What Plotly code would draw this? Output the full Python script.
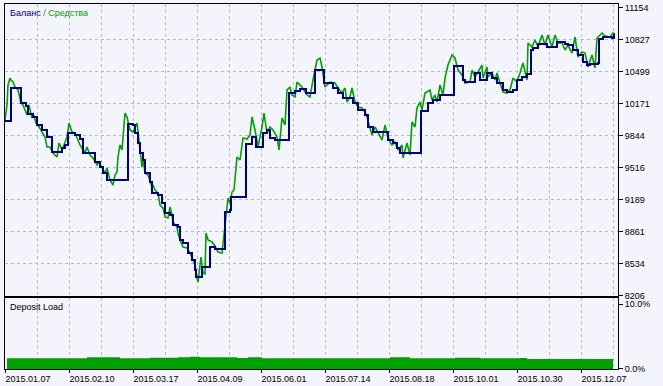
import plotly.graph_objects as go

# ---- data (x = trade index position along the tester chart) ----
bal_idx = [0,6,16,21,23,28,32,37,42,47, 57,60,63,70,75,78,90,95,98,102,
           123,128,130,133,135,138,140,145,147,153, 157,160,165,168,173,175,178,183,187,190,
           191,197,205,210,220,225,226,241,247,251, 258,262,265,270,284,290,295,301,310,319,
           328,333,338,348,353,360,363,368,383,388, 392,395,416,423,428,435,449,458,460,470,
           475,482,487,492,498,502,508,512,517,522, 526,528,533,542,552,560,563,568,573,578,
           582,585,593,594,598,607,609,610]
balance = [9992,10330,10176,10146,10064,10033,9951,9900,9828,9675, 9716,9747,9869,9849,9808,9665,9573,9521,9460,9388,
           9962,9951,9869,9767,9665,9593,9460,9368,9255,9235, 9153,9051,9030,8928,8907,8774,8743,8641,8569,8467,
           8395,8498,8702,8682,9061,9081,9214,9757,9828,9726, 9869,9900,9818,9798,10279,10299,10320,10279,10514,10381,
           10330,10279,10228,10176,10105,10054,9931,9880,9798,9767, 9716,9665,10095,10176,10207,10258,10555,10412,10391,10484,
           10412,10484,10432,10381,10310,10289,10310,10412,10443,10473, 10719,10740,10780,10750,10801,10780,10770,10719,10668,10596,
           10565,10576,10586,10832,10852,10842,10873,10873]

eq_idx = [0,2,3,5,6,8,10,13,16,18, 22,24,27,28,31,33,37,40,42,45, 48,52,54,57,59,62,64,67,70,72,
          75,78,80,82,85,88,92,94,97,100, 102,105,108,110,112,113,115,117,120,122, 125,128,132,135,137,138,140,143,147,148,
          150,153,155,158,160,163,165,167,168,172, 173,175,178,182,185,188,190,192,193,196, 198,200,201,203,207,210,213,217,220,222,
          223,225,227,229,232,235,238,242,245,247, 250,253,257,259,262,265,268,272,274,277, 280,282,285,287,290,292,297,302,305,308,
          312,315,317,320,325,330,333,337,340,342, 345,347,350,353,357,360,362,365,367,370, 373,377,380,383,387,390,393,397,398,402,
          405,407,410,412,415,417,420,425,427,430, 432,435,438,440,443,447,450,453,457,460, 465,467,470,473,477,478,482,483,487,490,
          492,495,498,502,505,508,512,515,518,522, 523,527,530,533,537,540,543,547,550,553, 557,560,563,567,570,573,577,580,583,587,
          590,592,597,600,605,608,610]
equity = [10003,10156,10361,10432,10412,10391,10340,10310,10176,10156, 10054,10156,10023,10074,9972,9951,9880,9828,9726,9726,
          9665,9624,9767,9695,9747,9828,9972,9880,9869,9818, 9747,9695,9675,9726,9644,9613,9542,9573,9511,9460,
          9511,9388,9337,9440,9470,9624,9747,9695,10074,10033, 9900,9880,9972,9726,9521,9624,9460,9440,9317,9337,
          9286,9255,9132,9102,9010,9000,9112,9030,8958,8907, 8846,8774,8702,8692,8641,8569,8518,8385,8344,8600,
          8436,8426,8846,8774,8754,8713,8651,8641,8907,9081, 9204,9153,9265,9286,9624,9593,9818,9808,9849,10033,
          9900,9726,9931,10074,9869,9931,9900,9828,9695,10023, 9951,10310,10340,10258,10238,10391,10340,10258,10238,10412,
          10617,10637,10545,10340,10391,10381,10330,10279,10330,10187, 10238,10330,10187,10136,10125,10084,10033,9921,9849,9931,
          9880,9798,9951,9818,9747,9777,9695,9747,9613,9767, 9644,9982,9931,10125,10187,10105,10279,10310,10207,10258,
          10187,10361,10258,10432,10565,10668,10637,10514,10463,10381, 10391,10514,10443,10494,10565,10432,10545,10443,10484,10412,
          10484,10381,10289,10279,10310,10432,10391,10484,10586,10412, 10791,10750,10821,10750,10873,10770,10873,10750,10873,10791,
          10791,10719,10770,10688,10852,10647,10699,10688,10545,10668, 10535,10842,10893,10862,10852,10893,10883]

load_idx = [2, 82, 115, 145, 173, 185, 195, 232, 243, 257, 385, 405, 450, 475, 515, 522, 608]
load_pct = [1.65, 1.8, 1.65, 1.75, 1.8, 1.9, 1.8, 1.7, 1.8, 1.65, 1.8, 1.65, 1.75, 1.65, 1.7, 1.55, 1.55]

date_pos = [0, 64, 128, 192, 256, 320, 384, 448, 512, 576]
date_labels = ["2015.01.07", "2015.02.10", "2015.03.17", "2015.04.09", "2015.06.01",
               "2015.07.14", "2015.08.18", "2015.10.01", "2015.10.30", "2015.12.07"]

y_ticks = [8206, 8533.6, 8861.1, 9188.7, 9516.2, 9843.8, 10171.3, 10498.9, 10826.4, 11154]
y_labels = ["8206", "8534", "8861", "9189", "9516", "9844", "10171", "10499", "10827", "11154"]

load_ticks = [0, 10]
load_labels = ["0.0%", "10.0%"]

NAVY = "#000080"
GREEN = "#00A000"
BG = "#F4F4FC"
GRID = "#B8B8C0"
FONT = dict(family="Liberation Sans, Arial, sans-serif", size=9, color="black")

fig = go.Figure()
fig.add_trace(go.Scatter(x=eq_idx, y=equity, mode="lines", line=dict(color=GREEN, width=1.6),
                         xaxis="x", yaxis="y", hoverinfo="skip"))
fig.add_trace(go.Scatter(x=bal_idx, y=balance, mode="lines", line=dict(color=NAVY, width=2, shape="hv"),
                         xaxis="x", yaxis="y", hoverinfo="skip"))
fig.add_trace(go.Scatter(x=load_idx, y=load_pct, mode="lines", line=dict(color=GREEN, width=0, shape="hv"),
                         fill="tozeroy", fillcolor=GREEN, xaxis="x2", yaxis="y2", hoverinfo="skip"))

xgrid = dict(showgrid=True, gridcolor=GRID, griddash="3px,3px", gridwidth=1,
             minor=dict(tickmode="linear", tick0=32, dtick=64, showgrid=True, gridcolor=GRID,
                        griddash="3px,3px", gridwidth=1, ticks=""))

fig.update_layout(
    width=663, height=386,
    margin=dict(l=5, r=45, t=4, b=17, autoexpand=False),
    paper_bgcolor=BG, plot_bgcolor=BG,
    showlegend=False,
    font=FONT,
    xaxis=dict(domain=[0, 1], range=[0, 613], anchor="y", tickmode="array", tickvals=date_pos,
               showticklabels=False, ticks="", showline=True, linecolor="black", linewidth=1, mirror=True,
               zeroline=False, automargin=False, **xgrid),
    yaxis=dict(domain=[0.2008, 1], range=[8204, 11190], side="right", anchor="x",
               tickmode="array", tickvals=y_ticks, ticktext=y_labels, ticks="outside", ticklen=4,
               tickcolor="black", showgrid=False, zeroline=False, automargin=False,
               minor=dict(tickmode="array", tickvals=y_ticks[:-1], showgrid=True, gridcolor=GRID,
                          griddash="3px,3px", gridwidth=1, ticks=""),
               showline=True, linecolor="black", linewidth=1, mirror=True, tickfont=FONT),
    xaxis2=dict(domain=[0, 1], range=[0, 613], anchor="y2", matches="x", tickmode="array",
                tickvals=date_pos, ticktext=date_labels, ticks="outside", ticklen=3, tickcolor="black",
                ticklabelshift=23, ticklabelstandoff=-2, tickfont=FONT, showline=True, linecolor="black",
                linewidth=1, mirror=True, zeroline=False, automargin=False, **xgrid),
    yaxis2=dict(domain=[0, 0.1937], range=[0, 10.88], side="right", anchor="x2",
                tickmode="array", tickvals=load_ticks, ticktext=load_labels, ticks="outside", ticklen=4,
                tickcolor="black", showgrid=False, zeroline=False, showline=True, linecolor="black",
                linewidth=1, mirror=True, tickfont=FONT, automargin=False),
    annotations=[
        dict(xref="paper", yref="paper", x=0.005, y=0.975, xanchor="left", yanchor="middle",
             showarrow=False, font=dict(family=FONT["family"], size=9),
             text='<span style="color:#000080">Баланс</span><span style="color:#606060"> / </span>'
                  '<span style="color:#00A000">Средства</span>'),
        dict(xref="paper", yref="paper", x=0.005, y=0.171, xanchor="left", yanchor="middle",
             showarrow=False, font=FONT, text="Deposit Load"),
    ],
)

fig.write_html("out.html")
